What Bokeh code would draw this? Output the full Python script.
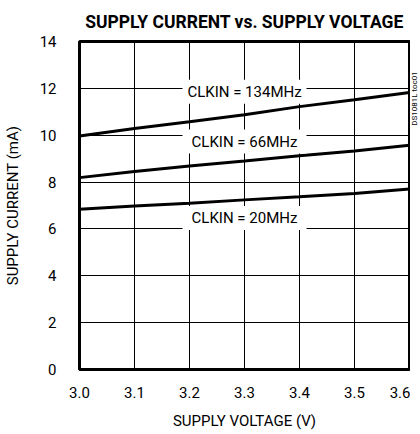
import math
from bokeh.plotting import figure
from bokeh.models import Label, FixedTicker, Range1d
from bokeh.layouts import row
from bokeh.embed import file_html
from bokeh.resources import INLINE

voltage = [3.0, 3.1, 3.2, 3.3, 3.4, 3.5, 3.6]
i_134 = [9.97, 10.29, 10.57, 10.87, 11.22, 11.51, 11.82]
i_66 = [8.19, 8.45, 8.69, 8.90, 9.12, 9.33, 9.57]
i_20 = [6.84, 6.98, 7.10, 7.24, 7.37, 7.51, 7.70]
series_names = ["CLKIN = 134MHz", "CLKIN = 66MHz", "CLKIN = 20MHz"]
label_y = [11.85, 9.73, 6.47]
x_ticks = [3.0, 3.1, 3.2, 3.3, 3.4, 3.5, 3.6]
y_ticks = [0, 2, 4, 6, 8, 10, 12, 14]
title_text = "SUPPLY CURRENT vs. SUPPLY VOLTAGE"
note_text = "DS1081L toc01"

FONT = "Roboto"

p = figure(frame_width=330, frame_height=328, output_backend="svg", toolbar_location=None,
           x_range=Range1d(3.0, 3.6), y_range=Range1d(0, 14),
           min_border_left=73, min_border_right=1, min_border_top=36, min_border_bottom=54)

p.title.text = title_text
p.title.align = "center"
p.title.text_font = FONT
p.title.text_font_size = "17.5px"
p.title.text_font_style = "bold"
p.title.text_color = "black"
p.title.standoff = 19

p.outline_line_color = "black"
p.outline_line_width = 3
p.background_fill_color = "white"
p.border_fill_color = "white"

for ax in (p.xaxis[0], p.yaxis[0]):
    ax.axis_line_color = None
    ax.major_tick_line_color = None
    ax.minor_tick_line_color = None
    ax.major_label_text_font = FONT
    ax.major_label_text_font_size = "15px"
    ax.major_label_text_color = "black"
    ax.axis_label_text_font = FONT
    ax.axis_label_text_font_size = "15px"
    ax.axis_label_text_font_style = "normal"
    ax.axis_label_text_color = "black"

p.xaxis[0].ticker = FixedTicker(ticks=x_ticks)
p.yaxis[0].ticker = FixedTicker(ticks=y_ticks)
p.xaxis[0].major_label_overrides = {t: f"{t:.1f}" for t in x_ticks}
p.xaxis[0].axis_label = "SUPPLY VOLTAGE (V)"
p.yaxis[0].axis_label = "SUPPLY CURRENT (mA)"
p.xaxis[0].major_label_standoff = 11
p.yaxis[0].major_label_standoff = 17
p.xaxis[0].axis_label_standoff = 11
p.yaxis[0].axis_label_standoff = 15

p.xgrid.grid_line_color = "black"
p.ygrid.grid_line_color = "black"
p.xgrid.grid_line_width = 1
p.ygrid.grid_line_width = 1
p.xgrid.ticker = FixedTicker(ticks=x_ticks)
p.ygrid.ticker = FixedTicker(ticks=y_ticks)

for ys in (i_134, i_66, i_20):
    p.line(voltage, ys, line_color="black", line_width=3)

# white boxes behind the curve labels
p.rect(x=[3.3] * 3, y=label_y, width=124, height=24, width_units="screen",
       height_units="screen", fill_color="white", line_color=None)
for name, yy in zip(series_names, label_y):
    p.add_layout(Label(x=3.3, y=yy, text=name, text_align="center", text_baseline="middle",
                       text_font=FONT, text_font_size="15px", text_color="black"))

# ---- narrow strip at the right holding the rotated note ----
side = figure(frame_width=8, frame_height=364, output_backend="svg", toolbar_location=None,
              x_range=Range1d(0, 8), y_range=Range1d(0, 364),
              min_border_left=0, min_border_right=0, min_border_top=0, min_border_bottom=0)
side.axis.visible = False
side.grid.visible = False
side.outline_line_color = None
side.background_fill_color = "white"
side.border_fill_color = "white"
side.title.visible = False
side.add_layout(Label(x=3.5, y=307, text=note_text, angle=math.pi / 2,
                      text_align="center", text_baseline="middle", text_font=FONT,
                      text_font_size="8px", text_color="black"))

layout = row(p, side)
open("out.html", "w").write(file_html(layout, INLINE))
